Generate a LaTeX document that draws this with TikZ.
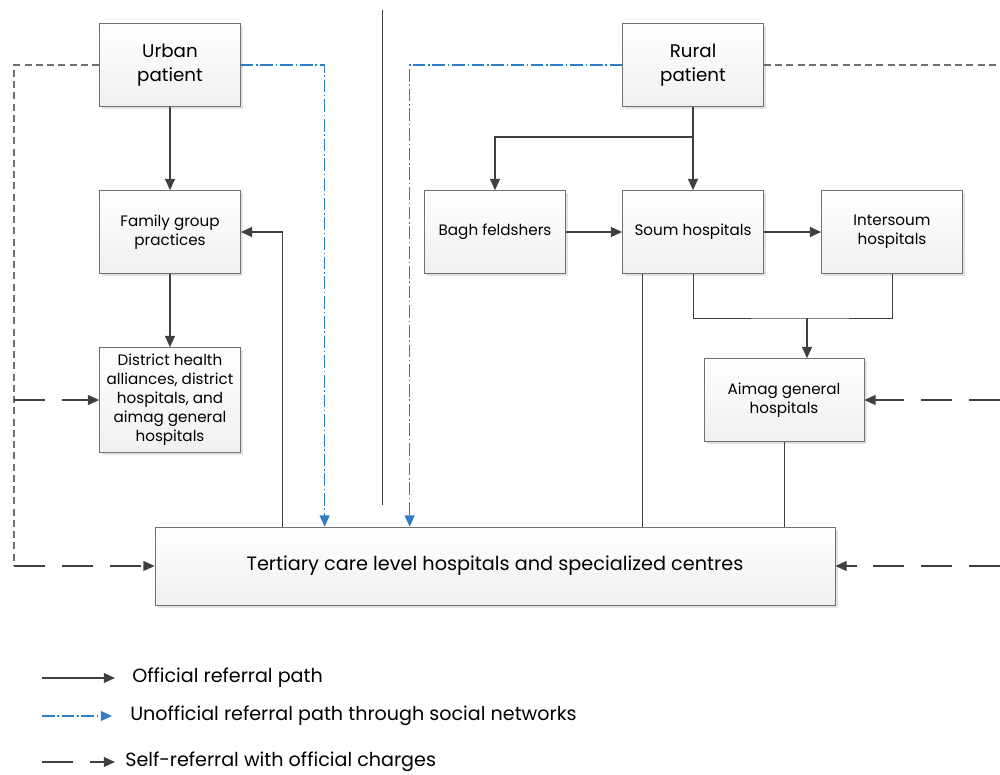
\documentclass[tikz,border=0pt]{standalone}
\usepackage{fontspec}
\setmainfont{Poppins}
\usetikzlibrary{arrows.meta,positioning,calc,shadows}
\definecolor{Ink}{HTML}{404040}
\definecolor{Social}{HTML}{2F7EC4}
\definecolor{Frame}{HTML}{707070}

\begin{document}
\begin{tikzpicture}[x=0.025cm,y=-0.025cm,>={Triangle[length=8pt,width=7pt]},
    box/.style={draw=Frame,top color=white,bottom color=gray!12,drop shadow={shadow xshift=2pt,shadow yshift=-2pt,fill=gray!45,opacity=.5},align=center,minimum width=3.525cm,minimum height=2.075cm,inner sep=2pt},
    bigtext/.style={font=\fontsize{13}{17}\selectfont},
    smalltext/.style={font=\fontsize{10.8}{13.5}\selectfont},
    official/.style={->,Ink,line width=1.1pt},
    plainline/.style={Ink,line width=.6pt},
    social/.style={->,Social,line width=1pt,dash pattern=on 9pt off 2pt on 1pt off 2pt},
    selfpath/.style={Frame,line width=.8pt,dash pattern=on 5pt off 3pt},
    selfref/.style={->,Ink,line width=1pt,dash pattern=on 22pt off 12pt},
    legend/.style={anchor=west,inner sep=0pt,font=\fontsize{13.6}{16}\selectfont}]
    \useasboundingbox (0,0) rectangle (1000,775);
    % patients
    \node[box,bigtext] (urban) at (170,65) {Urban\\patient};
    \node[box,bigtext] (rural) at (693,65) {Rural\\patient};
    % urban side
    \node[box,smalltext] (family) at (170,232) {Family group\\practices};
    \node[box,smalltext,minimum height=2.625cm] (district) at (170,400) {District health\\alliances, district\\hospitals, and\\aimag general\\hospitals};
    % rural side
    \node[box,smalltext] (bagh) at (495,232) {Bagh feldshers};
    \node[box,smalltext] (soum) at (693,232) {Soum hospitals};
    \node[box,smalltext] (intersoum) at (892,232) {Intersoum\\hospitals};
    \node[box,smalltext,minimum width=4cm] (aimag) at (784,400) {Aimag general\\hospitals};
    \node[box,font=\fontsize{13.7}{16}\selectfont,minimum width=17cm,minimum height=1.95cm] (tertiary) at (495,566) {Tertiary care level hospitals and specialized centres};
    \draw[Ink,line width=.6pt] (382,10) -- (382,505);
    \coordinate (leftrail) at (14,0);
    \coordinate (rightedge) at (1000,0);
    \coordinate (join) at (807,318);

    % official referral
    \draw[official] (urban) -- (family);
    \draw[official] (family) -- (district);
    \draw[official] (rural) -- (soum);
    \draw[official] ($(rural.south)+(0,30)$) -| (bagh.north);
    \draw[official] (bagh) -- (soum);
    \draw[official] (soum) -- (intersoum);
    \draw[plainline] (soum.south) |- (join) -| (intersoum.south);
    \draw[official] (join) -- (join |- aimag.north);
    \draw[official] ($(tertiary.north west)+(128,0)$) |- (family.east);
    \draw[plainline] ($(soum.south west)+(20,0)$) coordinate (s1) -- (s1 |- tertiary.north);
    \draw[plainline] (aimag.south) -- (aimag.south |- tertiary.north);

    % social networks
    \draw[social] (urban.east) -| ($(tertiary.north west)+(170,0)$);
    \draw[social] (rural.west) -| ($(tertiary.north west)+(255,0)$);

    % self-referral
    \draw[selfpath] (urban.west) -| (leftrail |- tertiary.west);
    \draw[selfref] (leftrail |- tertiary.west) -- (tertiary.west);
    \draw[selfref] (leftrail |- district.west) -- (district.west);
    \draw[selfpath] (rural.east) -- (rural.east -| rightedge);
    \draw[selfref] (rightedge |- aimag.east) -- (aimag.east);
    \draw[selfref] (rightedge |- tertiary.east) -- (tertiary.east);

    % legend
    \node[legend] (lg1) at (132,678) {Official referral path};
    \node[legend] (lg2) at (130,716) {Unofficial referral path through social networks};
    \node[legend] (lg3) at (125,762) {Self-referral with official charges};
    \draw[official] (42,678) -- (115,678);
    \draw[social] (42,716) -- (112,716);
    \draw[Ink,line width=1pt] (42,762) -- (73,762);
    \draw[official,line width=1pt] (90,762) -- (115,762);
\end{tikzpicture}
\end{document}
